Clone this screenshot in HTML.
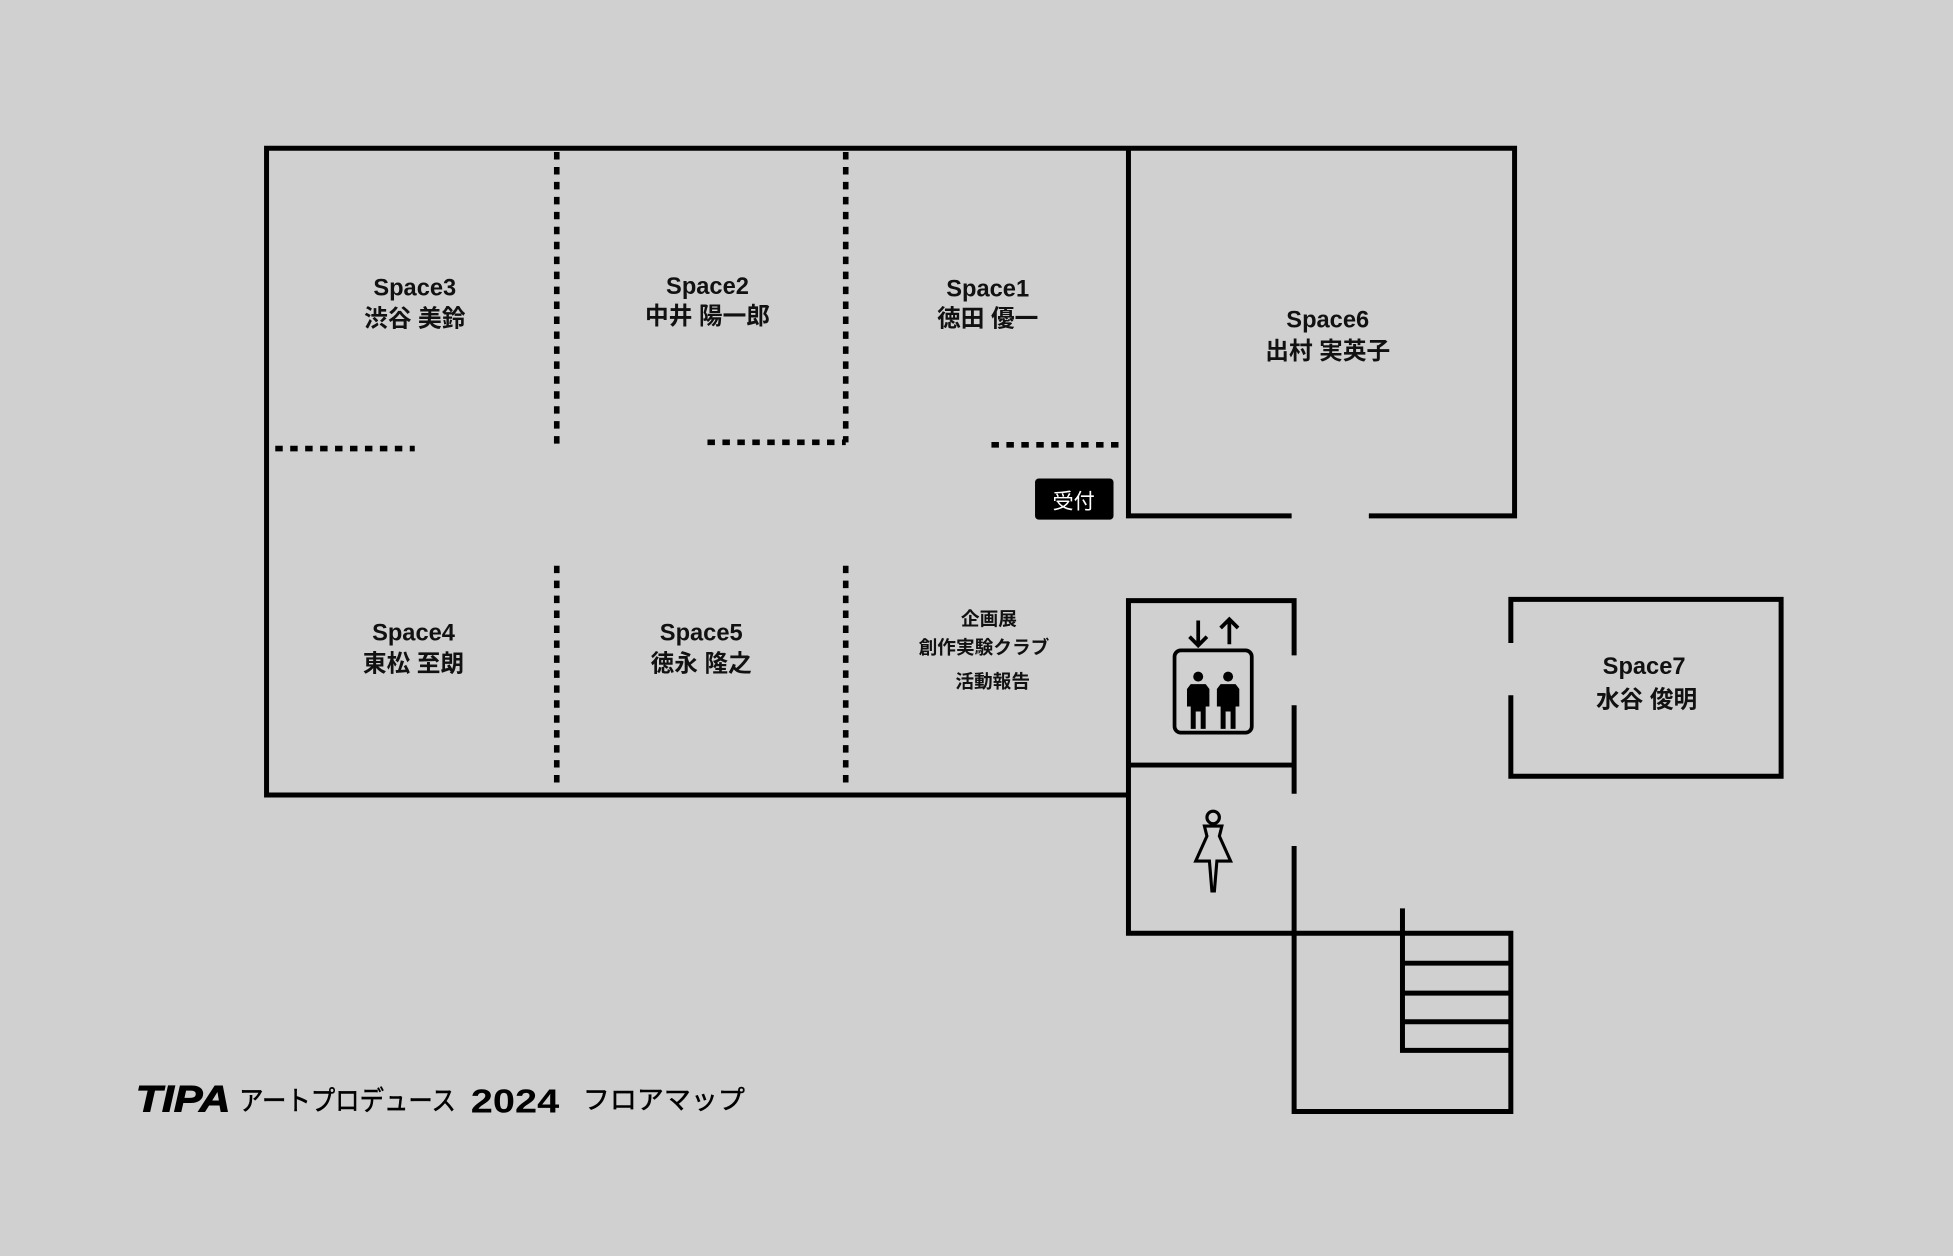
<!DOCTYPE html>
<html><head><meta charset="utf-8"><style>html,body{margin:0;padding:0;background:#d0d0d0;}svg{display:block}</style></head>
<body>
<svg width="1953" height="1256" viewBox="0 0 1568 1008" preserveAspectRatio="none" xmlns="http://www.w3.org/2000/svg">
<rect width="1568" height="1008" fill="#d0d0d0"/>
<g stroke="#000" stroke-width="4" fill="none" stroke-linecap="square">
<path d="M214 119H1216V414H1101M1035 414H906V119M214 119V638H906V482H1039V524M1039 568V635M906 614H1039M906 638V749H1039M1039 681V892H1213V749H1039M1126 731V843H1213M1126 773H1213M1126 797H1213M1126 820H1213"/>
<path d="M1213 514V481H1430V623H1213V560"/>
</g>
<g stroke="#000" stroke-width="4.5" stroke-dasharray="6 6" fill="none">
<path d="M447 122V357M679 122V355M221 360H333M568 355H679M796 357H904M447 454V634M679 454V634"/>
</g>
<rect x="831" y="384" width="63" height="33" rx="3" fill="#000"/>
<text x="862" y="408" fill="#fff" font-size="17" text-anchor="middle" font-family="'Liberation Sans','Noto Sans CJK JP',sans-serif">受付</text>
<g font-family="'Liberation Sans','Noto Sans CJK JP',sans-serif" font-weight="bold" font-size="19" text-anchor="middle" fill="#111">
<text x="333" y="237">Space3</text><text x="333" y="262">渋谷 美鈴</text>
<text x="568" y="236">Space2</text><text x="568" y="260">中井 陽一郎</text>
<text x="793" y="238">Space1</text><text x="793" y="262">徳田 優一</text>
<text x="1066" y="263">Space6</text><text x="1066" y="288">出村 実英子</text>
<text x="332" y="514">Space4</text><text x="332" y="539">東松 至朗</text>
<text x="563" y="514">Space5</text><text x="563" y="539">徳永 隆之</text>
<text x="1320" y="541">Space7</text><text x="1322" y="568">水谷 俊明</text>
<g font-size="15"><text x="794" y="502">企画展</text><text x="790" y="525">創作実験クラブ</text><text x="797" y="552">活動報告</text></g>
</g>
<g stroke="#000" stroke-width="3" fill="none">
<rect x="943" y="522" width="62" height="66" rx="5"/>
<path d="M962 498V518M955 511L962 518L969 511M987 517V497M980 504L987 497L994 504"/>
</g>
<g fill="#000">
<circle cx="962" cy="543" r="4"/><path d="M956 549h12l3 4v14h-3v18h-4v-14h-4v14h-4v-18h-3v-14z"/>
<circle cx="986" cy="543" r="4"/><path d="M980 549h12l3 4v14h-3v18h-4v-14h-4v14h-4v-18h-3v-14z"/>
</g>
<g stroke="#000" stroke-width="2.5" fill="#d0d0d0">
<circle cx="974" cy="656" r="5"/>
<path d="M967 663h14l-2 8l9 20h-11l-2 24h-2l-2-24h-11l9-20z"/>
</g>
<text x="109" y="892" font-family="'Liberation Sans',sans-serif" font-weight="bold" font-style="italic" font-size="30" textLength="76" lengthAdjust="spacingAndGlyphs" fill="#000" stroke="#000" stroke-width="0.8">TIPA</text>
<text x="192" y="891" font-family="'Liberation Sans','Noto Sans CJK JP',sans-serif" font-size="22" textLength="174" lengthAdjust="spacingAndGlyphs" fill="#000" stroke="#000" stroke-width="0.4">アートプロデュース</text>
<text x="378" y="893" font-family="'Liberation Sans',sans-serif" font-weight="bold" font-size="27" textLength="71" lengthAdjust="spacingAndGlyphs" fill="#000">2024</text>
<text x="468" y="890" font-family="'Liberation Sans','Noto Sans CJK JP',sans-serif" font-size="21" textLength="130" lengthAdjust="spacingAndGlyphs" fill="#000" stroke="#000" stroke-width="0.4">フロアマップ</text>
</svg>
</body></html>
